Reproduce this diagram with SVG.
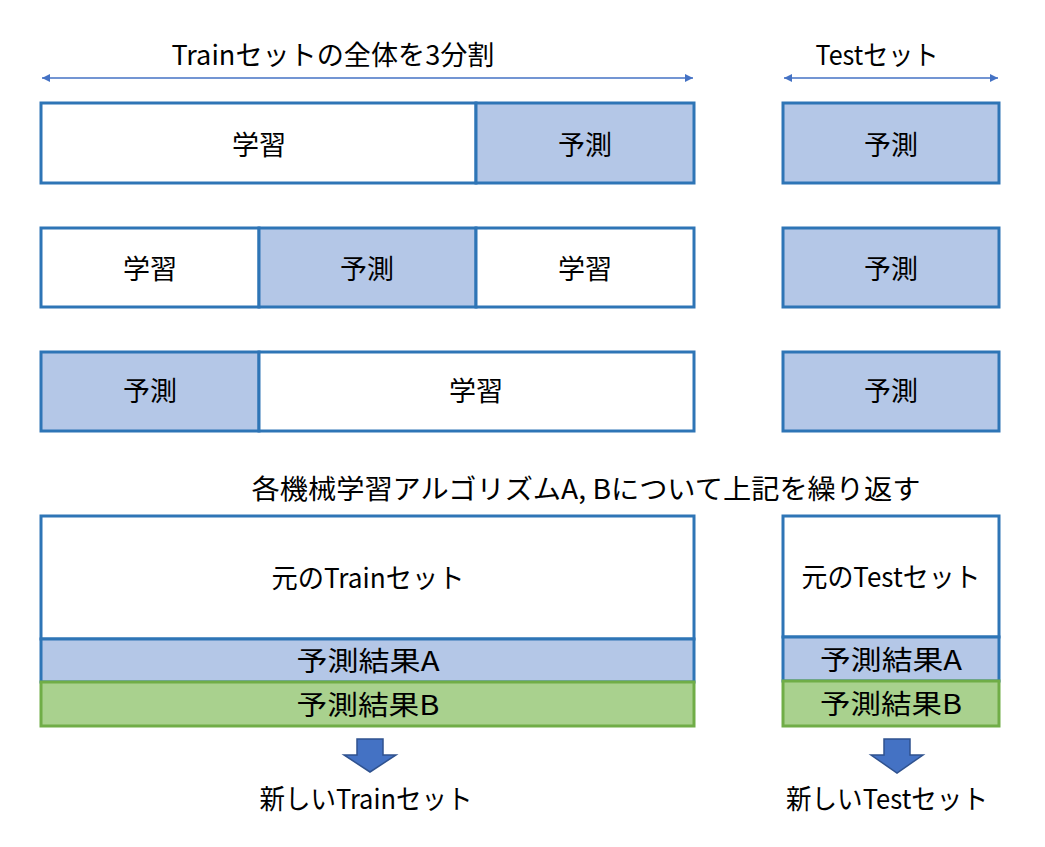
<svg xmlns="http://www.w3.org/2000/svg" width="1045" height="847" viewBox="0 0 1045 847">
<style>
text{font-family:"Noto Sans CJK JP","Noto Sans",sans-serif;font-size:27px;fill:#000;text-anchor:middle;dominant-baseline:central}
.b{stroke:#2E75B6;stroke-width:3}
.w{fill:#fff}
.p{fill:#B4C7E7}
.g{fill:#A9D18E;stroke:#70AD47;stroke-width:3}
.dim{stroke:#4472C4;stroke-width:1.3;fill:none}
.da{fill:#4472C4;stroke:#2F528F;stroke-width:1.5}
</style>
<defs>
<marker id="ah" viewBox="0 0 10 10" refX="10" refY="5" markerWidth="8" markerHeight="8" markerUnits="userSpaceOnUse" orient="auto-start-reverse">
<path d="M0,0 L10,5 L0,10 Z" fill="#4472C4"/>
</marker>
</defs>
<rect width="1045" height="847" fill="#fff"/>
<g id="labels">
<text x="333" y="53" textLength="323" lengthAdjust="spacingAndGlyphs">Trainセットの全体を3分割</text>
<text x="877" y="53" textLength="123" lengthAdjust="spacingAndGlyphs">Testセット</text>
<text x="586" y="487" textLength="669" lengthAdjust="spacingAndGlyphs">各機械学習アルゴリズムA, Bについて上記を繰り返す</text>
</g>
<g id="connectors">
<line class="dim" x1="42" y1="78" x2="693" y2="78" marker-start="url(#ah)" marker-end="url(#ah)"/>
<line class="dim" x1="784" y1="78" x2="998" y2="78" marker-start="url(#ah)" marker-end="url(#ah)"/>
<path class="da" d="M357,739 H383 V755 H396 L370,772 L344,755 H357 Z"/>
<path class="da" d="M884,739 H910 V755 H923 L897,773 L871,755 H884 Z"/>
</g>
<g id="row1">
<rect class="b w" x="41" y="103" width="435" height="80"/>
<text x="259" y="143">学習</text>
<rect class="b p" x="476" y="103" width="218" height="80"/>
<text x="585" y="143">予測</text>
<rect class="b p" x="783" y="103" width="216" height="80"/>
<text x="891" y="143">予測</text>
</g>
<g id="row2">
<rect class="b w" x="41" y="228" width="218" height="79"/>
<text x="150" y="267">学習</text>
<rect class="b p" x="259" y="228" width="217" height="79"/>
<text x="367" y="267">予測</text>
<rect class="b w" x="476" y="228" width="218" height="79"/>
<text x="585" y="267">学習</text>
<rect class="b p" x="783" y="228" width="216" height="79"/>
<text x="891" y="267">予測</text>
</g>
<g id="row3">
<rect class="b p" x="41" y="352" width="218" height="79"/>
<text x="150" y="389">予測</text>
<rect class="b w" x="259" y="352" width="435" height="79"/>
<text x="476" y="389">学習</text>
<rect class="b p" x="783" y="352" width="216" height="79"/>
<text x="891" y="389">予測</text>
</g>
<g id="newTrain">
<rect class="b w" x="41" y="516" width="653" height="123"/>
<text x="368" y="576" textLength="193" lengthAdjust="spacingAndGlyphs">元のTrainセット</text>
<rect class="b p" x="41" y="639" width="653" height="43"/>
<text x="368" y="659" textLength="143" lengthAdjust="spacingAndGlyphs">予測結果A</text>
<rect class="g" x="41" y="682" width="653" height="44"/>
<text x="368" y="703" textLength="143" lengthAdjust="spacingAndGlyphs">予測結果B</text>
<text x="366" y="797" textLength="213" lengthAdjust="spacingAndGlyphs">新しいTrainセット</text>
</g>
<g id="newTest">
<rect class="b w" x="783" y="516" width="216" height="121"/>
<text x="891" y="575" textLength="179" lengthAdjust="spacingAndGlyphs">元のTestセット</text>
<rect class="b p" x="783" y="637" width="216" height="44"/>
<text x="891" y="658" textLength="142" lengthAdjust="spacingAndGlyphs">予測結果A</text>
<rect class="g" x="783" y="681" width="216" height="45"/>
<text x="891" y="702" textLength="142" lengthAdjust="spacingAndGlyphs">予測結果B</text>
<text x="887" y="797" textLength="202" lengthAdjust="spacingAndGlyphs">新しいTestセット</text>
</g>
</svg>
